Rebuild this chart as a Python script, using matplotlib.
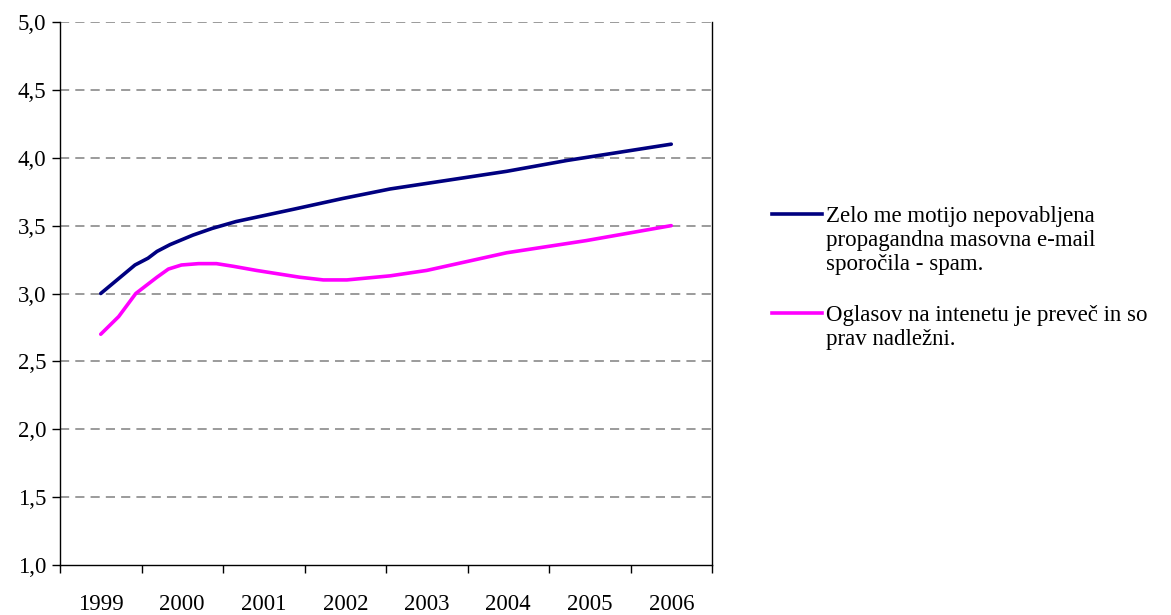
import matplotlib
matplotlib.use("Agg")
import matplotlib.pyplot as plt
from matplotlib.lines import Line2D
from matplotlib.ticker import FixedLocator, FuncFormatter

# leta (kategorije)
years = [1999, 2000, 2001, 2002, 2003, 2004, 2005, 2006]

# prebrane točke krivulj (leto kot decimalno število)
spam_x = [1999.0, 1999.42, 1999.58, 1999.69, 1999.85, 2000.13, 2000.37, 2000.66,
          2001.36, 2001.97, 2002.55, 2003.98, 2004.72, 2006.0]
spam_y = [3.00, 3.21, 3.26, 3.31, 3.36, 3.43, 3.48, 3.53,
          3.62, 3.70, 3.77, 3.90, 3.98, 4.10]

ads_x = [1999.0, 1999.22, 1999.43, 1999.69, 1999.83, 1999.99, 2000.20, 2000.42,
         2000.63, 2000.91, 2001.44, 2001.73, 2002.02, 2002.55, 2003.0, 2003.98,
         2004.96, 2006.0]
ads_y = [2.70, 2.83, 3.00, 3.12, 3.18, 3.21, 3.22, 3.22,
         3.20, 3.17, 3.12, 3.10, 3.10, 3.13, 3.17, 3.30,
         3.39, 3.50]

labels = ["Zelo me motijo nepovabljena\npropagandna masovna e-mail\nsporočila - spam.",
          "Oglasov na intenetu je preveč in so\nprav nadležni."]
colors = ["#000080", "#FF00FF"]

plt.rcParams['font.family'] = ['Liberation Serif', 'DejaVu Serif']

fig = plt.figure(figsize=(11.71, 6.15), dpi=100)
ax = fig.add_axes([60 / 1171, 50 / 615, 652 / 1171, 543 / 615])

ax.plot(spam_x, spam_y, color=colors[0], lw=2.6, solid_capstyle='round')
ax.plot(ads_x, ads_y, color=colors[1], lw=2.6, solid_capstyle='round')

ax.set_xlim(years[0] - 0.5, years[-1] + 0.5)
ax.set_ylim(1.0, 5.0)

# y os
yt = [1.0 + 0.5 * i for i in range(9)]
ax.set_yticks(yt)
ax.yaxis.set_major_formatter(FuncFormatter(lambda v, p: f"{v:.1f}".replace('.', ',')))
ax.tick_params(axis='y', direction='out', length=6, width=1, pad=4, labelsize=16.5)
for v in yt[1:]:
    ax.axhline(v, color='#808080', lw=1.1, ls=(0, (6, 4)), zorder=0)

# x os - oznake med kategorijami
ax.xaxis.set_major_locator(FixedLocator([y - 0.5 for y in years] + [years[-1] + 0.5]))
ax.xaxis.set_minor_locator(FixedLocator(years))
ax.xaxis.set_major_formatter(FuncFormatter(lambda v, p: ""))
ax.xaxis.set_minor_formatter(FuncFormatter(lambda v, p: str(int(round(v)))))
ax.tick_params(axis='x', which='major', direction='out', length=6, width=1)
ax.tick_params(axis='x', which='minor', length=0, pad=21, labelsize=16.5)

ax.spines['top'].set_visible(False)
for s in ['left', 'bottom', 'right']:
    ax.spines[s].set_color('black')
    ax.spines[s].set_linewidth(1)

# legenda
leg_line = [214, 313]
leg_text = [206, 305]
for lab, col, yl, yt_ in zip(labels, colors, leg_line, leg_text):
    yf = 1 - yl / 615
    fig.add_artist(Line2D([772 / 1171, 822 / 1171], [yf, yf], color=col, lw=2.6,
                          transform=fig.transFigure))
    fig.text(826 / 1171, 1 - yt_ / 615, lab, fontsize=16.5, va='top', ha='left',
             linespacing=1.2, transform=fig.transFigure)

fig.savefig("out.png", dpi=100)
